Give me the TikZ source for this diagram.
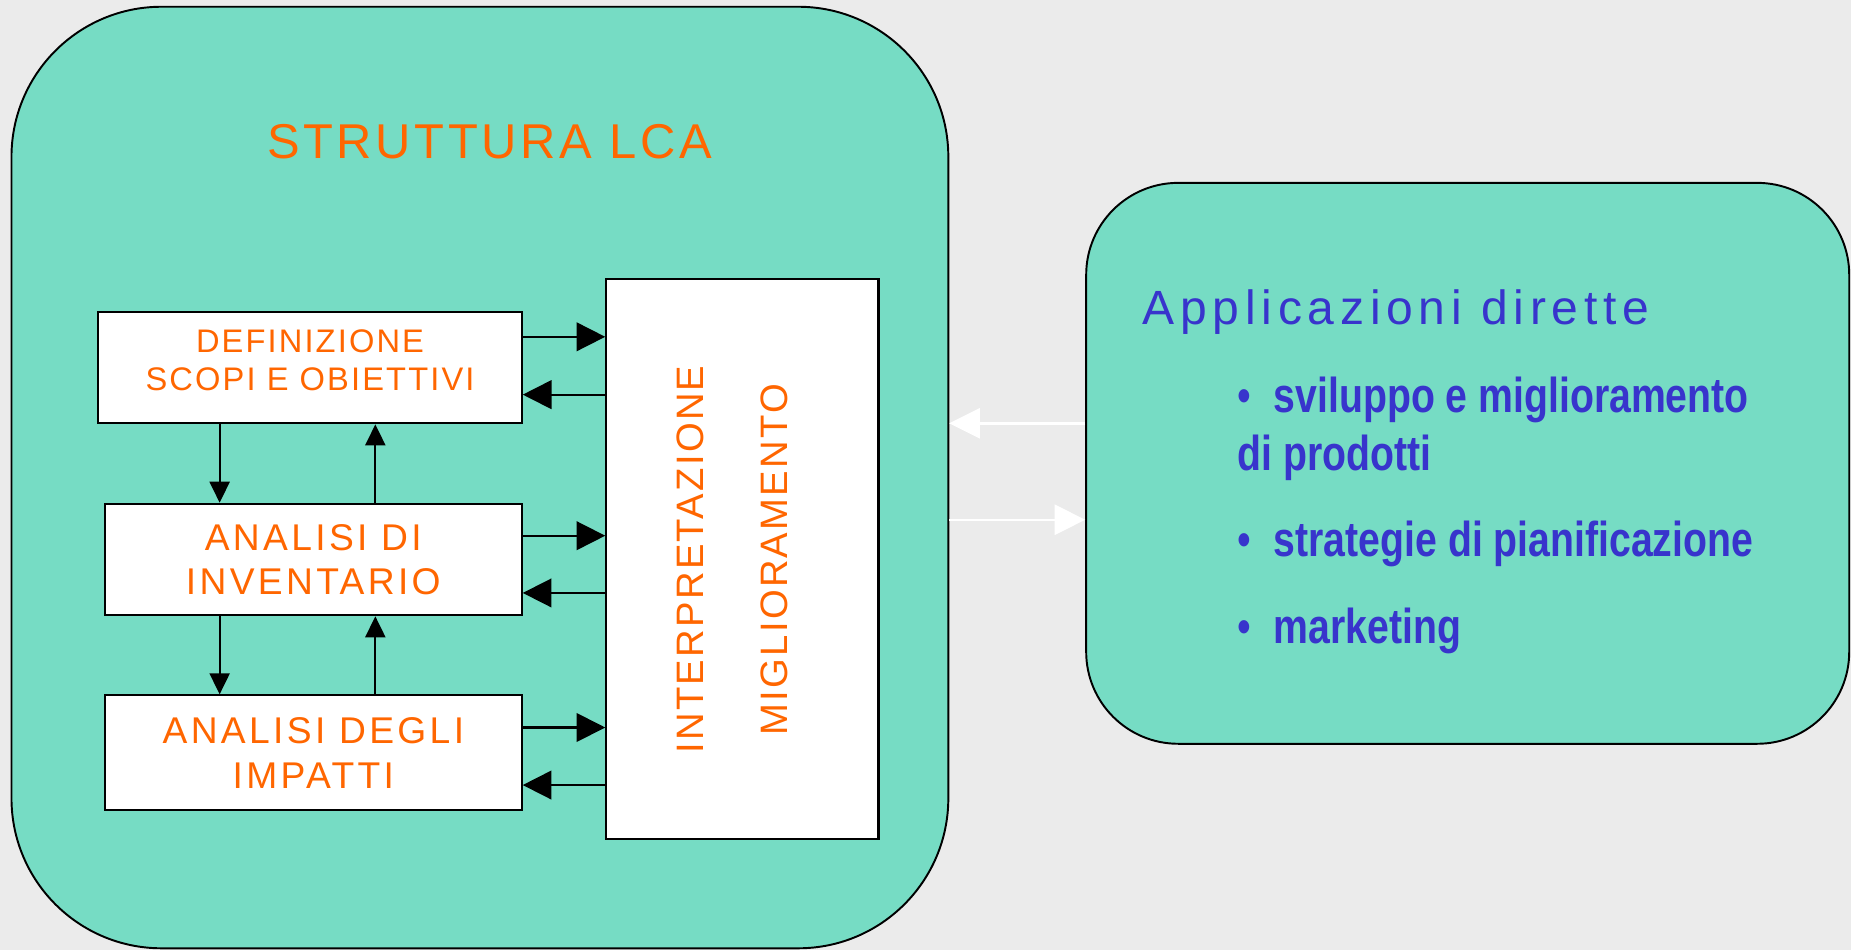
\documentclass[tikz,border=0pt]{standalone}
\usepackage{fontspec}
\setmainfont{Liberation Sans}
\newfontfamily\fTitle[LetterSpace=7.5]{Liberation Sans}
\newfontfamily\fDef[LetterSpace=6.5]{Liberation Sans}
\newfontfamily\fInv[LetterSpace=9]{Liberation Sans}
\newfontfamily\fVert[LetterSpace=6]{Liberation Sans}
\newfontfamily\fApp[LetterSpace=12]{Liberation Sans}
\newfontfamily\fBul[FakeStretch=0.8]{Liberation Sans}
\usetikzlibrary{arrows.meta}
\definecolor{bg}{RGB}{235,235,235}
\definecolor{teal}{RGB}{118,220,196}
\definecolor{orng}{RGB}{255,102,0}
\definecolor{blu}{RGB}{56,52,204}
\tikzset{
  bigbox/.style={draw=black, line width=0.55pt, fill=teal, inner sep=0pt},
  wbox/.style={draw=black, line width=0.6pt, fill=white, inner sep=0pt},
  otext/.style={text=orng, inner sep=0pt, align=center},
  btext/.style={text=blu, inner sep=0pt, anchor=base west, font=\fBul\bfseries\fontsize{13.94pt}{16pt}\selectfont},
  harr/.style={draw=black, line width=0.6pt, -{Triangle[length=0.287cm, width=0.286cm]}},
  varr/.style={draw=black, line width=0.6pt, -{Triangle[length=0.21cm, width=0.2cm]}},
  warr/.style={draw=white, line width=0.7pt, -{Triangle[length=0.305cm, width=0.30cm]}}
}
\newcommand{\bul}{\makebox[0.36cm][l]{\mdseries •}}
\begin{document}
\begin{tikzpicture}[x=0.01cm, y=-0.01cm]
\fill[bg] (0,0) rectangle (1851,950);
\useasboundingbox (0,0) rectangle (1851,950);

% big containers
\node[bigbox, rounded corners=1.5cm, minimum width=9.363cm, minimum height=9.41cm] (lca) at (479.9,477.5) {};
\node[bigbox, rounded corners=0.92cm, minimum width=7.626cm, minimum height=5.606cm] (app) at (1467.7,463.3) {};

% title
\node[otext, anchor=base, font=\fTitle\fontsize{13.9pt}{16pt}\selectfont] (title) at (489.5,158.3) {STRUTTURA LCA};

% white boxes
\node[wbox, minimum width=4.232cm, minimum height=1.115cm] (def) at (310,367.5) {};
\node[wbox, minimum width=4.166cm, minimum height=1.114cm] (inv) at (313.3,559.5) {};
\node[wbox, minimum width=4.163cm, minimum height=1.146cm] (imp) at (313.4,752.7) {};
\node[wbox, minimum width=2.72cm, minimum height=5.596cm] (interp) at (742.4,558.8) {};

% box texts
\node[otext, font=\fDef\fontsize{9.28pt}{10.81pt}\selectfont] (deft) at ([yshift=0.075cm]def.center) {DEFINIZIONE\\SCOPI E OBIETTIVI};
\node[otext, font=\fInv\fontsize{10.58pt}{12.6pt}\selectfont] (invt) at (inv.center) {ANALISI DI\\INVENTARIO};
\node[otext, font=\fInv\fontsize{10.58pt}{12.9pt}\selectfont] (impt) at (imp.center) {ANALISI DEGLI\\IMPATTI};
\node[otext, rotate=90, font=\fVert\fontsize{10.87pt}{23.99pt}\selectfont] (interpt) at (732.5,559.6) {INTERPRETAZIONE\\MIGLIORAMENTO};

% horizontal arrows
\draw[harr] ([yshift=0.307cm]def.east) -- ([yshift=0.307cm]def.east -| interp.west);
\draw[harr] ([yshift=-0.271cm]def.east -| interp.west) -- ([yshift=-0.271cm]def.east);
\draw[harr] ([yshift=0.238cm]inv.east) -- ([yshift=0.238cm]inv.east -| interp.west);
\draw[harr] ([yshift=-0.334cm]inv.east -| interp.west) -- ([yshift=-0.334cm]inv.east);
\draw[harr] ([yshift=0.252cm]imp.east) -- ([yshift=0.252cm]imp.east -| interp.west);
\draw[harr] ([yshift=-0.323cm]imp.east -| interp.west) -- ([yshift=-0.323cm]imp.east);

% vertical arrows
\draw[varr] ([xshift=-0.903cm]def.south) -- ([xshift=-0.903cm]def.south |- inv.north);
\draw[varr] ([xshift=0.653cm]def.south |- inv.north) -- ([xshift=0.653cm]def.south);
\draw[varr] ([xshift=-0.936cm]inv.south) -- ([xshift=-0.936cm]inv.south |- imp.north);
\draw[varr] ([xshift=0.62cm]inv.south |- imp.north) -- ([xshift=0.62cm]inv.south);

% white arrows
\draw[warr] ([yshift=0.40cm]app.west) -- ([yshift=0.40cm]app.west -| lca.east);
\draw[warr] ([yshift=-0.564cm]app.west -| lca.east) -- ([yshift=-0.564cm]app.west);

% right box texts
\node[btext, font=\fApp\fontsize{13.66pt}{16pt}\selectfont] (apptitle) at (1141.7,324.3) {Applicazioni dirette};
\node[btext] (b1) at (1237,412.7) {\bul sviluppo e miglioramento};
\node[btext] (b1b) at (1237,470) {di prodotti};
\node[btext] (b2) at (1237,556.7) {\bul strategie di pianificazione};
\node[btext] (b3) at (1237,643.3) {\bul marketing};
\end{tikzpicture}
\end{document}
